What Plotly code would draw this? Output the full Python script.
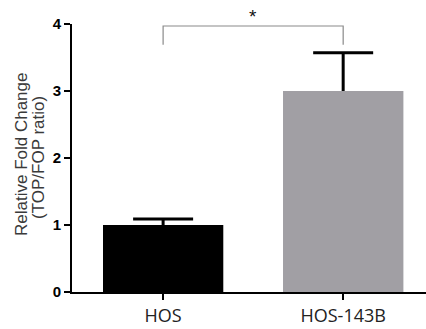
import plotly.graph_objects as go

categories = ["HOS", "HOS-143B"]
values = [1.0, 3.0]
errors = [0.09, 0.57]
bar_colors = ["#000000", "#a19fa4"]
y_ticks = [0, 1, 2, 3, 4]
bracket_y = 3.97
bracket_drop = 3.69
sig_label = "*"
title_lines = ["Relative Fold Change", "(TOP/FOP ratio)"]

fig = go.Figure()
# bar with symmetric error bars (lower half hidden by the overlaid bar)
fig.add_trace(go.Bar(
    x=[0, 1], y=values, width=0.667,
    marker=dict(color=bar_colors, line=dict(width=0)),
    error_y=dict(type="data", symmetric=True, array=errors,
                 color="#000000", thickness=3, width=30),
    showlegend=False, hoverinfo="skip",
))
fig.add_trace(go.Bar(
    x=[0, 1], y=values, width=0.667,
    marker=dict(color=bar_colors, line=dict(width=0)),
    showlegend=False,
))

# significance bracket
fig.add_trace(go.Scatter(
    x=[0, 0, 1, 1], y=[bracket_drop, bracket_y, bracket_y, bracket_drop],
    mode="lines", line=dict(color="#8a8a8a", width=1.2),
    showlegend=False, hoverinfo="skip", cliponaxis=False,
))
fig.add_annotation(x=0.5, y=bracket_y, xref="x", yref="y", text=sig_label,
                   showarrow=False, yanchor="bottom", yshift=-3,
                   font=dict(family="Liberation Sans", size=19, color="#111"))

# two-line rotated axis title
fig.add_annotation(x=(21 - 72) / 354, y=(292 - 155) / 268, xref="paper", yref="paper",
                   text=title_lines[0], textangle=-90, showarrow=False,
                   xanchor="center", yanchor="middle",
                   font=dict(family="Liberation Sans", size=17, color="#3a3a3a"))
fig.add_annotation(x=(38 - 72) / 354, y=(292 - 158) / 268, xref="paper", yref="paper",
                   text=title_lines[1], textangle=-90, showarrow=False,
                   xanchor="center", yanchor="middle",
                   font=dict(family="Liberation Sans", size=17, color="#3a3a3a"))

fig.update_layout(
    width=426, height=329,
    margin=dict(l=72, r=0, t=24, b=37),
    paper_bgcolor="white", plot_bgcolor="white",
    barmode="overlay",
    xaxis=dict(
        range=[-0.506, 1.46], tickvals=[0, 1], ticktext=categories,
        showline=True, linecolor="black", linewidth=2,
        ticks="outside", ticklen=6, tickwidth=2, tickcolor="black",
        showgrid=False, zeroline=False,
        tickfont=dict(family="Open Sans", size=18, color="#222"),
    ),
    yaxis=dict(
        range=[0, 4], tickvals=y_ticks,
        showline=True, linecolor="black", linewidth=2,
        ticks="outside", ticklen=6, tickwidth=2, tickcolor="black",
        showgrid=False, zeroline=False,
        tickfont=dict(family="Liberation Sans", size=15, color="black", weight="bold"),
    ),
)

fig.write_html("out.html", config={"displayModeBar": False},
               post_script="document.body.style.margin='0';")
